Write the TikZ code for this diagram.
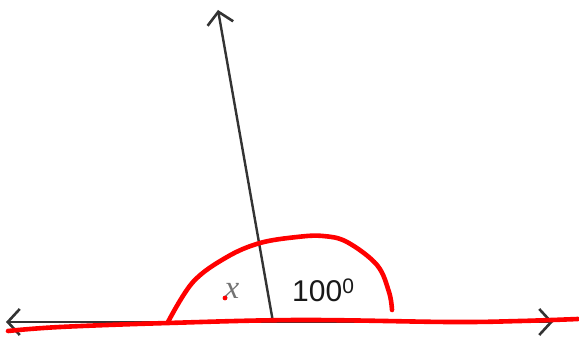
\documentclass[tikz,border=0pt]{standalone}
\usepackage{fontspec}
\setmainfont{Liberation Sans}
\newfontfamily\serifit{Liberation Serif}
\usetikzlibrary{arrows.meta}
\tikzset{
  blackline/.style={draw=black!80, line width=2.4pt},
  barb/.tip={Straight Barb[length=12pt,width=26pt,line width=2.6pt]},
  redpen/.style={draw=red, line width=4.6pt, line cap=round, line join=round},
  lbl/.style={inner sep=0pt}
}
\begin{document}
\begin{tikzpicture}[x=1pt,y=-1pt]
\useasboundingbox (0,0) rectangle (579,339);
\coordinate (L) at (6,322);
\coordinate (R) at (553,322);
\coordinate (O) at (273,322);
\coordinate (T) at (218,10);
\draw[blackline, barb-barb] (L) -- (R);
\draw[blackline, -barb] (O) -- (T);
% red base line
\draw[redpen] plot[smooth, tension=0.6] coordinates {(8,331) (60,327) (168,323) (300,320) (450,322) (520,321) (578,319)};
% red arc
\draw[redpen] plot[smooth, tension=0.6] coordinates {(168,322) (193,282) (227,257) (260,243) (297,237) (323,236) (347,242) (377,265) (389,292) (392,310)};
\node[lbl, text=black!55, font=\serifit\itshape\fontsize{33}{33}\selectfont] (x) at (232,291) {x};
\fill[red] (225,298) circle (2.4);
\node[lbl, text=black!90, font=\fontsize{30}{30}\selectfont, anchor=base west] (ang) at (292,302) {100\raisebox{8pt}{\fontsize{21}{21}\selectfont 0}};
\end{tikzpicture}
\end{document}
